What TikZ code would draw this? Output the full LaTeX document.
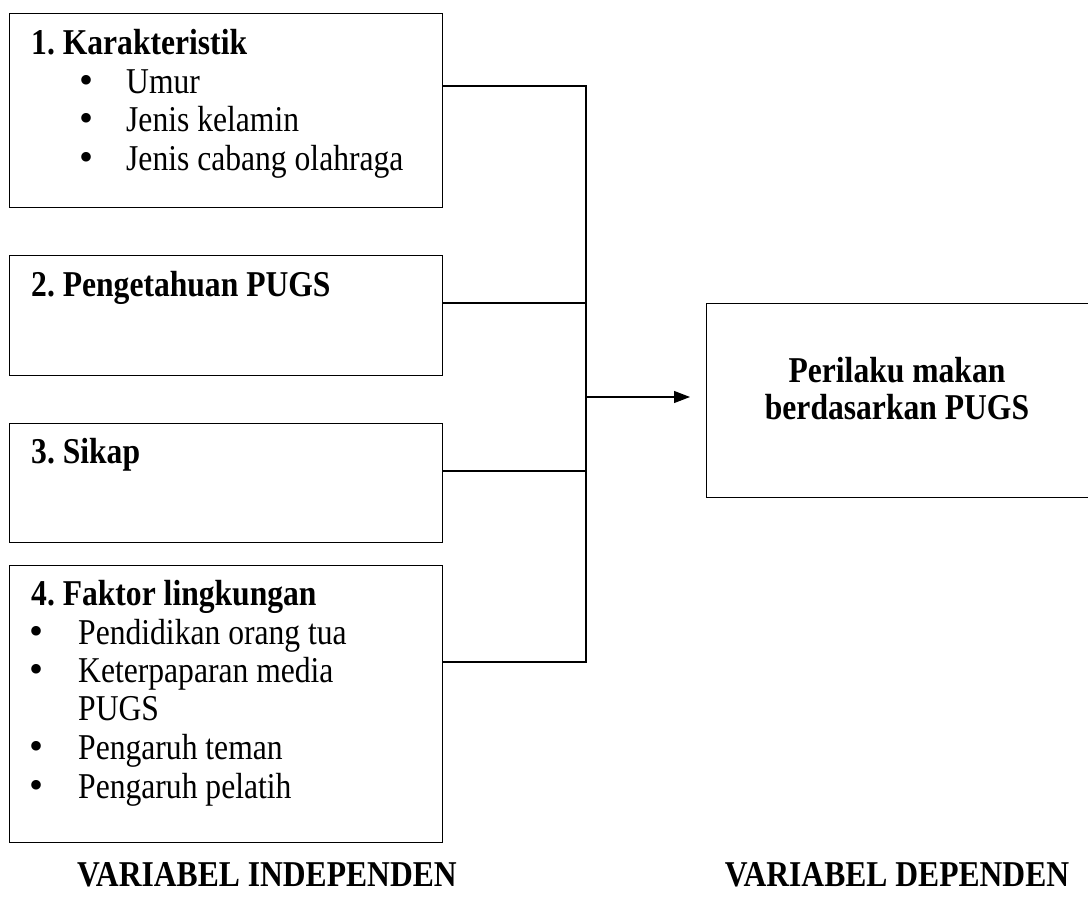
\documentclass[tikz,border=0pt]{standalone}
\usepackage{graphicx}
\usepackage{fontspec}
\setmainfont{Liberation Serif}
\usetikzlibrary{arrows.meta}
\newcommand{\tallt}[1]{\scalebox{1}[1.15]{#1}}
\newcommand{\bitem}[2]{\makebox[#1][l]{\fontsize{40}{40}\selectfont\textbullet}\tallt{#2}}
\begin{document}
\frenchspacing
\begin{tikzpicture}[x=1pt,y=-1pt,
  box/.style={draw,line width=1.2pt,rectangle,inner sep=0pt,anchor=north west},
  conn/.style={line width=1.2pt},
  txt/.style={anchor=base west,inner sep=0pt,font=\fontsize{31.6}{38}\selectfont},
  bld/.style={anchor=base west,inner sep=0pt,font=\fontsize{31.6}{38}\selectfont\bfseries},
  ctr/.style={anchor=base,inner sep=0pt,font=\fontsize{31.6}{38}\selectfont\bfseries},
]
\clip (0,0) rectangle (1088,908);
\fill[white] (0,0) rectangle (1088,908);

% boxes
\node[box,minimum width=433pt,minimum height=194pt] (b1) at (9,13) {};
\node[box,minimum width=433pt,minimum height=120pt] (b2) at (9,255) {};
\node[box,minimum width=433pt,minimum height=119pt] (b3) at (9,423) {};
\node[box,minimum width=433pt,minimum height=277pt] (b4) at (9,565) {};
\node[box,minimum width=420pt,minimum height=194pt] (out) at (706,303) {};

% box 1 text
\node[bld] (t1) at (31,54) {\tallt{1. Karakteristik}};
\node[txt] (t1a) at (79,93) {\bitem{47pt}{Umur}};
\node[txt] (t1b) at (79,131) {\bitem{47pt}{Jenis kelamin}};
\node[txt] (t1c) at (79,170) {\bitem{47pt}{Jenis cabang olahraga}};

% box 2, 3
\node[bld] (t2) at (31,296) {\tallt{2. Pengetahuan PUGS}};
\node[bld] (t3) at (31,463) {\tallt{3. Sikap}};

% box 4 text
\node[bld] (t4) at (31,605) {\tallt{4. Faktor lingkungan}};
\node[txt] (t4a) at (29,644) {\bitem{49pt}{Pendidikan orang tua}};
\node[txt] (t4b) at (29,682) {\bitem{49pt}{Keterpaparan media}};
\node[txt] (t4c) at (78,720) {\tallt{PUGS}};
\node[txt] (t4d) at (29,759) {\bitem{49pt}{Pengaruh teman}};
\node[txt] (t4e) at (29,798) {\bitem{49pt}{Pengaruh pelatih}};

% dependent text
\node[ctr] (o1) at (897,382) {\tallt{Perilaku makan}};
\node[ctr] (o2) at (897,419) {\tallt{berdasarkan PUGS}};

% bottom labels
\node[ctr] (li) at (267,886) {\tallt{VARIABEL INDEPENDEN}};
\node[ctr] (ld) at (897,886) {\tallt{VARIABEL DEPENDEN}};

% connectors
\coordinate (j1) at (586,86);
\coordinate (j2) at (586,303);
\coordinate (j3) at (586,471);
\coordinate (j4) at (586,662);
\coordinate (ja) at (586,397);
\draw[conn] (b1.east |- j1) -- (j1) -- (j4) -- (b4.east |- j4);
\draw[conn] (b2.east |- j2) -- (j2);
\draw[conn] (b3.east |- j3) -- (j3);
\draw[conn,-{Triangle[length=16pt,width=12pt]}] (ja) -- ([xshift=-16pt]out.west |- ja);
\end{tikzpicture}
\end{document}
